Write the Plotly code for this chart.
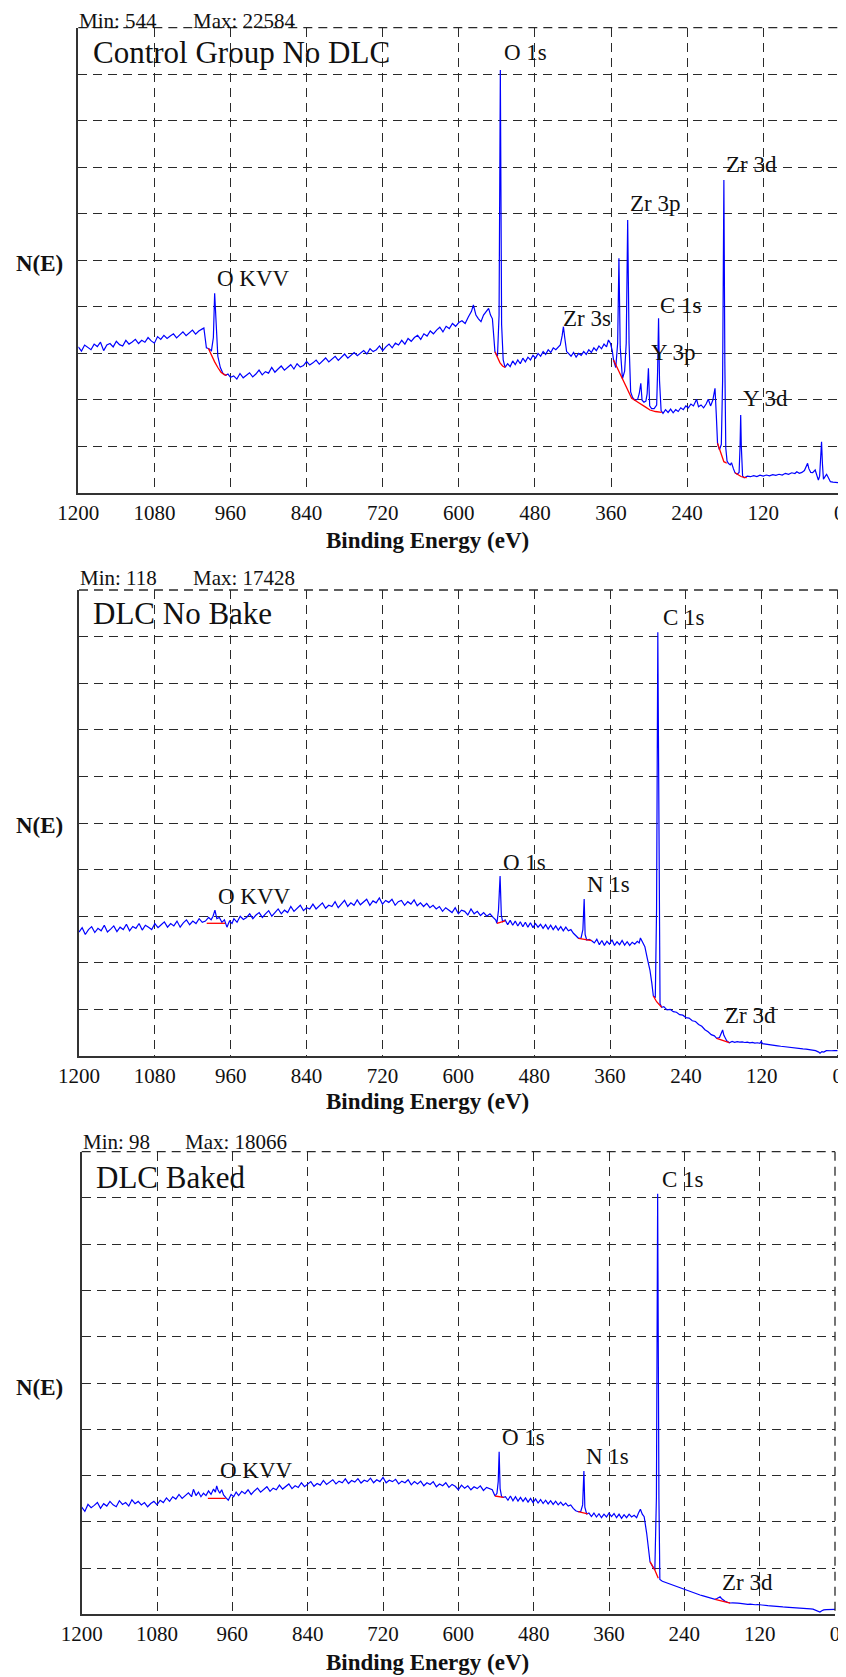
import plotly.graph_objects as go

PAGE_W, PAGE_H = 846, 1677
OFF = 8                      # default page margin of the html body
FW, FH = PAGE_W - OFF, PAGE_H - OFF
SERIF = "Liberation Serif"

# ---------------- Panel 1 : Control Group No DLC ----------------
p1_ev = [
    1200, 1195, 1190, 1185, 1180, 1175, 1170, 1165, 1160, 1155,
    1150, 1145, 1140, 1135, 1130, 1125, 1120, 1115, 1110, 1105,
    1100, 1095, 1090, 1085, 1080, 1075, 1070, 1065, 1060, 1055,
    1050, 1045, 1040, 1035, 1030, 1025, 1020, 1015, 1010, 1005,
    1002, 998, 994, 990, 987, 985, 983, 980, 976, 972,
    968, 964, 960,
    955, 950, 945, 940, 935, 930, 925, 920, 915, 910,
    905, 900, 895, 890, 885, 880, 875, 870, 865, 860,
    855, 850, 845, 840, 835, 830, 825, 820, 815, 810,
    805, 800, 795, 790, 785, 780, 775, 770, 765, 760,
    755, 750, 745, 740, 735, 730, 725, 720, 715, 710,
    705, 700, 695, 690, 685, 680, 675, 670, 665, 660,
    655, 650, 645, 640, 635, 630, 625, 620, 615, 610,
    605, 600,
    595, 590, 585, 580, 577, 573, 569, 565, 561, 557,
    553, 550, 547, 543, 539, 536.5, 534.5, 532.5, 530, 527,
    523, 519, 515, 511, 507, 503, 499, 495, 491, 487,
    483, 479, 475, 471, 467, 463, 459, 455, 451, 447,
    443, 440, 437, 435, 433, 430, 427, 423, 419, 415,
    411, 407, 403, 399, 395, 391, 387, 383, 379, 375,
    371, 367, 364, 361, 358, 356, 352.5, 349.5, 347.5, 345.5,
    342, 338.5, 336, 333.7, 331.5, 329, 326, 322, 318, 315.5,
    313, 311, 308, 305, 303, 301, 299, 296, 292, 288,
    286.5, 285, 283.5, 281, 278, 274, 270, 266, 262, 258,
    254, 250, 246, 242, 238, 234, 230, 227, 225, 222,
    218, 214, 210, 206.6, 203, 199.5, 196, 194, 192, 189,
    186, 184, 182, 180.5, 179, 177, 175, 172, 170, 167,
    164.5, 161, 158, 156.5, 155.5, 154.5, 152.5, 150, 145, 140,
    135, 130, 125, 120, 115, 110, 105, 100, 95, 90,
    85, 80, 75, 70, 67, 63, 59, 55, 52, 50,
    48, 45, 42, 38, 35, 33, 31, 29.5, 28, 26.5,
    25, 22, 20, 17, 14, 10, 5, 0,
]
p1_counts = [
    7800, 7580, 7900, 7760, 7650, 7950, 7820, 8050, 7600, 7900,
    7980, 7800, 8100, 7920, 7850, 8150, 7950, 8060, 8200, 7980,
    8150, 8050, 8300, 8120, 8000, 8350, 8200, 8420, 8250, 8380,
    8500, 8280, 8450, 8600, 8400, 8550, 8700, 8480, 8650, 8750,
    8809, 7750, 7700, 7600, 8300, 10662, 9000, 7300, 6700, 6400,
    6280, 6350, 6180,
    6250, 6080, 6380, 6150, 6290, 6420, 6200, 6350, 6560, 6310,
    6480, 6400, 6700, 6450, 6620, 6780, 6560, 6700, 6850, 6620,
    6900, 6720, 6800, 7020, 6830, 6950, 7100, 6880, 7060, 7210,
    7000, 7150, 7300, 7080, 7260, 7420, 7200, 7350, 7500, 7330,
    7450, 7600, 7420, 7700, 7550, 7650, 7850, 7600, 7800, 7950,
    7750, 8000, 7900, 8150, 7950, 8250, 8100, 8300, 8420, 8200,
    8500, 8380, 8650, 8500, 8700, 8850, 8600, 8900, 8780, 9050,
    8900, 9100,
    9200, 9050, 9400, 9700, 10037, 9500, 9300, 9150, 9500, 9700,
    9861, 9500, 9300, 7544, 7300, 9500, 22584, 9000, 7100, 6711,
    6900, 6750, 7050, 6850, 7100, 6900, 7200, 7000, 7250, 7100,
    7350, 7200, 7450, 7300, 7550, 7400, 7650, 7500, 7750, 7650,
    7800, 7900, 8400, 8879, 8300, 7550, 7450, 7300, 7500, 7250,
    7450, 7350, 7550, 7400, 7650, 7500, 7750, 7600, 7850, 7700,
    7950, 7800, 8169, 8000, 7600, 7101, 6700, 8000, 12531, 7800,
    6100, 6500, 8000, 14575, 8000, 5400, 5100, 4950, 5000, 5300,
    5857, 4950, 4850, 4900, 5300, 6658, 4650, 4500, 4500, 4700,
    6500, 9327, 6000, 4400, 4250, 4450, 4300, 4480, 4280, 4450,
    4350, 4550, 4450, 4650, 4550, 4750, 4650, 4850, 5003, 4600,
    4700, 4550, 4750, 5003, 4650, 4950, 5590, 4200, 2653, 2300,
    2600, 6000, 16711, 7000, 2400, 1700, 1586, 1500, 1618, 1300,
    1084, 1000, 1100, 2500, 4164, 2500, 900, 817, 900, 870,
    930, 880, 950, 900, 960, 920, 980, 940, 1000, 960,
    1050, 1000, 1080, 1040, 1137, 1050, 1100, 1200, 1400, 1586,
    1300, 1100, 1084, 1228, 900, 694, 900, 1800, 2739, 1500,
    731, 900, 998, 800, 603, 580, 560, 544,
]
p1_bg_ev = [
    [995, 990, 985, 980, 975, 970, 966],
    [543, 539, 535, 531, 527],
    [356, 348, 340.6, 334, 327.4, 320, 314, 306, 298.6, 290, 280],
    [192, 188, 185, 182, 179, 177.5],
    [164.5, 160, 155, 150, 146],
]
p1_bg_counts = [
    [7725, 7350, 7000, 6700, 6450, 6320, 6280],
    [7544, 7250, 6950, 6780, 6711],
    [7101, 6550, 6033, 5500, 5056, 4900, 4789, 4600, 4431, 4350, 4309],
    [2653, 2300, 1950, 1671, 1620, 1600],
    [1084, 980, 880, 830, 817],
]
p1_min, p1_max = 544, 22584
p1_title = "Control Group No DLC"
p1_labels = ["O 1s", "Zr 3p", "Zr 3d", "O KVV", "Zr 3s", "C 1s", "Y 3p", "Y 3d"]
p1_label_ev = [532.4, 332.8, 181.9, 984.5, 438.9, 285.5, 300.1, 155]
p1_label_counts = [23492, 15430, 17565, 11479, 9343, 10037, 7528, 5019]

# ---------------- Panel 2 : DLC No Bake ----------------
p2_ev = [
    1200, 1195, 1190, 1185, 1180, 1175, 1170, 1165, 1160, 1155,
    1150, 1145, 1140, 1135, 1130, 1125, 1120, 1115, 1110, 1105,
    1100, 1095, 1090, 1085, 1080, 1075, 1070, 1065, 1060, 1055,
    1050, 1045, 1040, 1035, 1030, 1025, 1020, 1015, 1010, 1005,
    1000, 995, 991, 988, 985, 982, 978, 974, 970, 966,
    962, 958,
    955, 950, 945, 940, 935, 930, 925, 920, 915, 910,
    905, 900, 895, 890, 885, 880, 875, 870, 865, 860,
    855, 850, 845, 840, 835, 830, 825, 820, 815, 810,
    805, 800, 795, 790, 785, 780, 775, 770, 765, 760,
    755, 750, 745, 740, 735, 730, 725, 720, 715, 710,
    705, 700, 695, 690, 685, 680, 675, 670, 665, 660,
    655, 650, 645, 640, 635, 630, 625, 620, 615, 610,
    605, 600, 595, 590, 585, 580, 575, 570, 565, 560,
    555, 550, 545, 541, 539, 536.5, 534, 532, 530, 526,
    522, 518, 514, 510, 506, 502, 498, 494, 490, 486,
    482, 478, 474, 470, 466, 462, 458, 454, 450, 446,
    442, 438, 434, 430, 426, 422, 418, 414, 410, 406,
    403, 401, 399.5, 397, 393, 389, 385, 381, 377, 373,
    369, 365, 361, 357, 353, 349, 345, 341, 337, 333,
    329, 325, 321, 317, 314, 312, 309, 305, 301, 297,
    294, 291.6, 288.5, 286.5, 284.5, 282.5, 281, 278.4, 275, 270,
    265, 260, 255, 250, 245, 240, 235, 230, 225, 220,
    215, 210, 205, 200, 195, 191.4, 187, 184, 182, 180,
    177, 175.6, 171.5, 167, 163, 159, 155, 151, 147, 143,
    139, 135, 131, 127, 123, 121, 119, 115, 111, 107,
    103, 99, 95, 90, 85, 80, 75, 70, 65, 60,
    55, 50, 45, 40, 35, 30, 28, 25, 22, 18,
    14, 10, 5, 0,
]
p2_counts = [
    5100, 5280, 5000, 5200, 5320, 5080, 5250, 5150, 5380, 5100,
    5220, 5350, 5120, 5300, 5200, 5420, 5150, 5330, 5250, 5450,
    5180, 5380, 5300, 5200, 5450, 5280, 5400, 5520, 5300, 5450,
    5350, 5550, 5300, 5480, 5600, 5400, 5550, 5450, 5650, 5500,
    5550, 5700, 5600, 5750, 6000, 5650, 5700, 5500, 5600, 5300,
    5550, 5450,
    5650, 5500, 5750, 5620, 5700, 5850, 5650, 5800, 5900, 5700,
    5850, 5980, 5750, 5920, 6050, 5850, 6000, 5900, 6150, 5950,
    6080, 6200, 5980, 6100, 6050, 6250, 6050, 6180, 6300, 6080,
    6200, 6150, 6350, 6100, 6250, 6400, 6150, 6300, 6200, 6420,
    6220, 6350, 6450, 6200, 6380, 6300, 6500, 6250, 6400, 6320,
    6450, 6200, 6350, 6400, 6200, 6350, 6250, 6420, 6180, 6300,
    6150, 6280, 6100, 6200, 6050, 6150, 5950, 6100, 6000, 5900,
    6100, 5850, 6000, 5950, 5800, 6050, 5850, 5950, 5780, 5900,
    5750, 5850, 5700, 5600, 5459, 6000, 7405, 5800, 5525, 5600,
    5400, 5580, 5380, 5550, 5350, 5520, 5320, 5500, 5300, 5480,
    5280, 5450, 5300, 5420, 5250, 5400, 5220, 5380, 5200, 5350,
    5180, 5320, 5150, 5300, 5150, 5200, 5048, 4950, 4842, 4850,
    5200, 6459, 5000, 4772, 4800, 4743, 4650, 4800, 4580, 4750,
    4550, 4720, 4600, 4780, 4550, 4700, 4580, 4750, 4560, 4700,
    4550, 4680, 4600, 4720, 4650, 4855, 4700, 4497, 4000, 3538,
    3000, 2468, 2400, 6000, 17428, 6000, 2150, 2004, 2030, 1900,
    1920, 1823, 1800, 1700, 1680, 1580, 1560, 1450, 1420, 1300,
    1220, 1080, 1000, 880, 830, 728, 760, 950, 1070, 850,
    650, 629, 547, 600, 560, 590, 570, 580, 555, 570,
    540, 560, 530, 545, 522, 600, 510, 500, 480, 470,
    460, 440, 420, 400, 380, 365, 341, 330, 310, 300,
    290, 280, 270, 250, 220, 160, 118, 180, 160, 220,
    210, 215, 220, 218,
]
p2_bg_ev = [
    [998, 969],
    [539, 526],
    [410, 389],
    [291.6, 286.4, 278.4],
    [191.4, 171.5],
]
p2_bg_counts = [
    [5459, 5459],
    [5459, 5554],
    [4842, 4743],
    [2468, 2234, 2004],
    [728, 547],
]
p2_min, p2_max = 118, 17428
p2_title = "DLC No Bake"
p2_labels = ["C 1s", "O 1s", "N 1s", "O KVV", "Zr 3d"]
p2_label_ev = [280, 533, 399.7, 983.3, 181]
p2_label_counts = [18040, 7981, 7076, 6582, 1666]

# ---------------- Panel 3 : DLC Baked ----------------
p3_ev = [
    1200, 1195, 1190, 1185, 1180, 1175, 1170, 1165, 1160, 1155,
    1150, 1145, 1140, 1135, 1130, 1125, 1120, 1115, 1110, 1105,
    1100, 1095, 1090, 1085, 1080, 1075, 1070, 1065, 1060, 1055,
    1050, 1045, 1040, 1035, 1030, 1025, 1022, 1018, 1014, 1010,
    1006, 1002, 998, 994, 990, 987, 985, 983, 980, 977,
    974, 970, 966.5, 962, 958, 954,
    950, 945, 940, 935, 930, 925, 920, 915, 910, 905,
    900, 895, 890, 885, 880, 875, 870, 865, 860, 855,
    850, 845, 840, 835, 830, 825, 820, 815, 810, 805,
    800, 795, 790, 785, 780, 775, 770, 765, 760, 755,
    750, 745, 740, 735, 730, 725, 720, 715, 710, 705,
    700, 695, 690, 685, 680, 675, 670, 665, 660, 655,
    650, 645, 640, 635, 630, 625, 620, 615, 610, 605,
    600, 595, 590, 585, 580, 575, 570, 565, 560, 555,
    550, 546, 541.6, 538.5, 536.5, 535, 533.5, 531, 528, 525,
    521, 517, 513, 509, 505, 501, 497, 493, 489, 485,
    481, 477, 473, 469, 465, 461, 457, 453, 449, 445,
    441, 437, 433, 429, 425, 421, 417, 413, 409, 405,
    402, 400, 398.5, 395.6, 392, 388, 384, 380, 376, 372,
    368, 364, 360, 356, 352, 348, 344, 340, 336, 332,
    328, 324, 320, 316, 313, 310, 307, 304, 300, 297,
    294.7, 290.5, 287, 284.5, 282.5, 280.5, 279, 275, 270, 265,
    260, 257.6, 254, 250, 246, 242, 239, 235, 230, 225,
    220, 215, 210, 205, 200, 195, 191, 188, 185, 183,
    181, 178, 175, 171, 167, 163, 159, 155, 151, 147,
    143, 139, 135, 131, 127, 123, 119, 115, 111, 107,
    103, 99, 95, 91, 87, 83, 79, 75, 71, 67,
    63, 59, 55, 51, 47, 43, 39, 35, 31, 27,
    24, 21, 18, 14, 10, 5, 0,
]
p3_counts = [
    4600, 4420, 4720, 4580, 4680, 4800, 4550, 4750, 4650, 4850,
    4700, 4620, 4880, 4720, 4800, 4650, 4920, 4750, 4850, 4700,
    4800, 4620, 4760, 4850, 4700, 4900, 4800, 5000, 4850, 5050,
    4950, 5150, 4980, 5100, 5220, 5050, 5370, 5100, 5250, 5050,
    5200, 5100, 5300, 5150, 5380, 5250, 5512, 5350, 5200, 5350,
    5125, 5000, 4900, 5150, 5050, 5250,
    5100, 5280, 5180, 5350, 5150, 5300, 5420, 5250, 5380, 5480,
    5280, 5420, 5350, 5550, 5380, 5480, 5600, 5400, 5520, 5450,
    5650, 5480, 5580, 5700, 5500, 5620, 5550, 5750, 5580, 5680,
    5780, 5600, 5720, 5650, 5820, 5620, 5750, 5680, 5830, 5640,
    5760, 5700, 5850, 5650, 5780, 5700, 5880, 5650, 5760, 5700,
    5800, 5600, 5720, 5650, 5780, 5560, 5700, 5600, 5720, 5520,
    5650, 5580, 5700, 5480, 5600, 5520, 5650, 5450, 5580, 5500,
    5350, 5550, 5420, 5520, 5350, 5480, 5400, 5520, 5320, 5450,
    5380, 5350, 5082, 5200, 5700, 6985, 5400, 5050, 5026, 5050,
    4900, 5080, 4880, 5050, 4860, 5020, 4850, 5000, 4820, 4980,
    4800, 4960, 4780, 4930, 4760, 4900, 4740, 4880, 4720, 4860,
    4700, 4820, 4680, 4780, 4650, 4700, 4550, 4450, 4408, 4420,
    4700, 6156, 4600, 4309, 4350, 4200, 4350, 4180, 4320, 4150,
    4300, 4180, 4350, 4200, 4330, 4150, 4300, 4120, 4280, 4150,
    4300, 4180, 4250, 4150, 4350, 4511, 4300, 4193, 3480, 2800,
    2260, 2050, 1903, 5000, 18066, 5000, 1500, 1420, 1370, 1320,
    1280, 1259, 1200, 1180, 1120, 1090, 1044, 1000, 970, 920,
    880, 829, 790, 750, 700, 670, 644, 680, 730, 756,
    680, 600, 560, 520, 485, 490, 470, 480, 473, 450,
    460, 430, 440, 420, 410, 420, 400, 390, 380, 370,
    360, 345, 335, 330, 320, 315, 310, 305, 301, 290,
    285, 280, 270, 265, 258, 250, 235, 220, 180, 130,
    98, 150, 190, 200, 210, 212, 215,
]
p3_bg_ev = [
    [999, 970.6],
    [541.6, 528],
    [409, 394],
    [294.7, 287, 281.5],
    [191, 167],
]
p3_bg_counts = [
    [4983, 4983],
    [5082, 5026],
    [4408, 4309],
    [2260, 1903, 1547],
    [644, 485],
]
p3_min, p3_max = 98, 18066
p3_title = "DLC Baked"
p3_labels = ["C 1s", "O 1s", "N 1s", "O KVV", "Zr 3d"]
p3_label_ev = [278.8, 533.7, 399.4, 982.4, 183.2]
p3_label_counts = [18658, 7574, 6758, 6199, 1345]

x_tick_vals = [1200, 1080, 960, 840, 720, 600, 480, 360, 240, 120, 0]
x_title = "Binding Energy (eV)"
y_title = "N(E)"

# ---------------- layout geometry (page pixels) ----------------
# minmax_y: None -> pinned to the top edge of the figure
panels = [
    dict(ev=p1_ev, counts=p1_counts, bg_ev=p1_bg_ev, bg_counts=p1_bg_counts,
         vmin=p1_min, vmax=p1_max, title=p1_title, labels=p1_labels,
         lab_ev=p1_label_ev, lab_ct=p1_label_counts,
         box=(78.3, 839.3, 27.7, 493.0), minmax_y=None, minx=78, maxx=192,
         title_x=91, title_y=52, ny=263, xt_y=540, standoff=0),
    dict(ev=p2_ev, counts=p2_counts, bg_ev=p2_bg_ev, bg_counts=p2_bg_counts,
         vmin=p2_min, vmax=p2_max, title=p2_title, labels=p2_labels,
         lab_ev=p2_label_ev, lab_ct=p2_label_counts,
         box=(79.0, 837.7, 590.0, 1056.0), minmax_y=578, minx=78, maxx=191,
         title_x=91, title_y=614, ny=825, xt_y=1101, standoff=0),
    dict(ev=p3_ev, counts=p3_counts, bg_ev=p3_bg_ev, bg_counts=p3_bg_counts,
         vmin=p3_min, vmax=p3_max, title=p3_title, labels=p3_labels,
         lab_ev=p3_label_ev, lab_ct=p3_label_counts,
         box=(81.7, 835.0, 1151.7, 1614.3), minmax_y=1142, minx=81, maxx=183,
         title_x=94, title_y=1177, ny=1387, xt_y=1662, standoff=0),
]

fig = go.Figure()
annotations = []
GRID = "#2a2a2a"
DASH = "9px,6px"


def px_x(p):
    return (p - OFF) / FW


def px_y(p):
    return 1 - (p - OFF) / FH


for i, pn in enumerate(panels):
    assert len(pn["ev"]) == len(pn["counts"]), (i, len(pn["ev"]), len(pn["counts"]))
    sfx = "" if i == 0 else str(i + 1)
    xa, ya = "x" + sfx, "y" + sfx
    fig.add_trace(go.Scatter(x=pn["ev"], y=pn["counts"], mode="lines",
                             line=dict(color="#0000ff", width=1.2),
                             xaxis=xa, yaxis=ya, showlegend=False, hoverinfo="skip"))
    for bev, bct in zip(pn["bg_ev"], pn["bg_counts"]):
        fig.add_trace(go.Scatter(x=bev, y=bct, mode="lines",
                                 line=dict(color="#ff0000", width=1.3),
                                 xaxis=xa, yaxis=ya, showlegend=False, hoverinfo="skip"))
    x0, x1, y0, y1 = pn["box"]
    ytop = 1.1 * pn["vmax"]
    fig.update_layout(**{
        "xaxis" + sfx: dict(
            domain=[px_x(x0), min(1.0, px_x(x1))], anchor=ya, range=[1200, 0], automargin=False,
            tickmode="array", tickvals=x_tick_vals, ticktext=[str(v) for v in x_tick_vals],
            showgrid=True, gridcolor=GRID, gridwidth=1.3, griddash=DASH,
            zeroline=False, showline=True, linecolor="#333333", linewidth=1.7,
            ticks="", tickfont=dict(family=SERIF, size=21, color="#111111"),
            ticklabelstandoff=pn["standoff"], fixedrange=True,
        ),
        "yaxis" + sfx: dict(
            domain=[max(0.0, px_y(y1)), px_y(y0)], anchor=xa, range=[0, ytop], automargin=False,
            tickmode="array", tickvals=[ytop * k / 10 for k in range(11)],
            showticklabels=False, showgrid=True, gridcolor=GRID, gridwidth=1.3,
            griddash=DASH, zeroline=False, showline=True,
            linecolor="#333333", linewidth=1.7, ticks="", fixedrange=True,
        ),
    })
    # dashed frame on top and right (continuation of the grid)
    fig.add_shape(type="line", xref="paper", yref="paper",
                  x0=px_x(x0), x1=px_x(x1), y0=px_y(y0), y1=px_y(y0),
                  line=dict(color=GRID, width=1.3, dash=DASH))
    fig.add_shape(type="line", xref="paper", yref="paper",
                  x0=px_x(x1), x1=px_x(x1), y0=px_y(y0), y1=px_y(y1),
                  line=dict(color=GRID, width=1.3, dash=DASH))

    txt = dict(xref="paper", yref="paper", showarrow=False, yanchor="middle")
    if pn["minmax_y"] is None:
        mm = dict(y=1.0, yanchor="top", borderpad=0)
    else:
        mm = dict(y=px_y(pn["minmax_y"]), yanchor="middle")
    mm_font = dict(family=SERIF, size=21, color="#111111")
    annotations.append(dict(txt, text=f"Min: {pn['vmin']}", x=px_x(pn["minx"]),
                            xanchor="left", font=mm_font, **mm))
    annotations.append(dict(txt, text=f"Max: {pn['vmax']}", x=px_x(pn["maxx"]),
                            xanchor="left", font=mm_font, **mm))
    annotations.append(dict(txt, text=pn["title"], x=px_x(pn["title_x"]), y=px_y(pn["title_y"]),
                            xanchor="left", font=dict(family=SERIF, size=31, color="#111111")))
    annotations.append(dict(txt, text=f"<b>{y_title}</b>", x=px_x(39.5), y=px_y(pn["ny"]),
                            xanchor="center", font=dict(family=SERIF, size=23, color="#111111")))
    annotations.append(dict(txt, text=f"<b>{x_title}</b>", x=px_x(427), y=px_y(pn["xt_y"]),
                            xanchor="center", font=dict(family=SERIF, size=23, color="#111111")))
    for lab, lev, lct in zip(pn["labels"], pn["lab_ev"], pn["lab_ct"]):
        annotations.append(dict(text=lab, x=lev, y=lct, xref=xa, yref=ya,
                                xanchor="left", yanchor="middle", showarrow=False,
                                font=dict(family=SERIF, size=23, color="#111111")))

fig.update_layout(
    width=FW, height=FH, margin=dict(l=0, r=0, t=0, b=0, pad=0),
    paper_bgcolor="white", plot_bgcolor="white",
    annotations=annotations, showlegend=False,
)

fig.write_html("out.html")
